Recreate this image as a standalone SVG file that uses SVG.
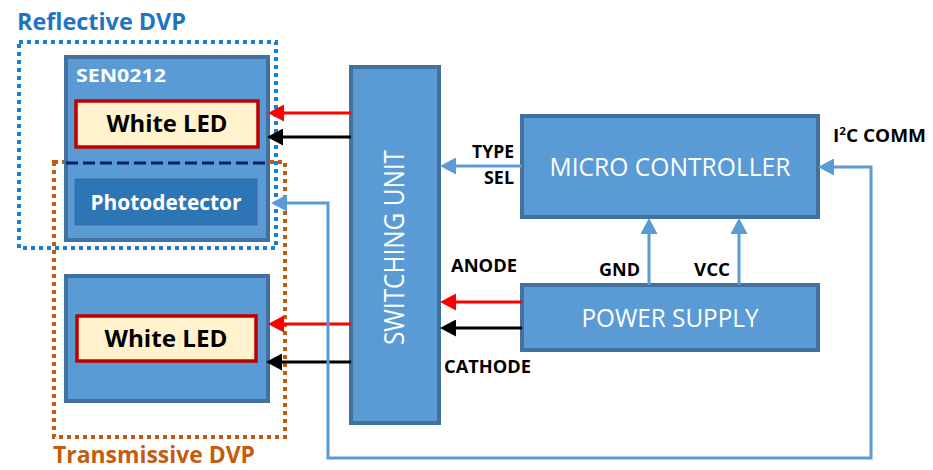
<svg xmlns="http://www.w3.org/2000/svg" width="933" height="470" viewBox="0 0 933 470">
<style>
.node{fill:#5B9BD5;stroke:#41719C;stroke-width:4}
.led{fill:#FFF2CC;stroke:#C00000;stroke-width:3.5}
.pd{fill:#2E75B6;stroke:#3A6FA5;stroke-width:1}
.wt{font-family:"Open Sans","Liberation Sans",sans-serif;fill:#fff}
.bt{font-family:"Open Sans","Liberation Sans",sans-serif;font-weight:bold;fill:#000}
.wb{font-family:"Open Sans","Liberation Sans",sans-serif;font-weight:bold;fill:#fff}
.red{stroke:#FF0000;stroke-width:3;fill:none}
.blk{stroke:#000;stroke-width:3;fill:none}
.blu{stroke:#5B9BD5;stroke-width:3;fill:none}
</style>
<defs>
<marker id="ar" markerUnits="userSpaceOnUse" viewBox="0 0 16 17" markerWidth="16" markerHeight="17" refX="0" refY="8.5" orient="auto"><path d="M0,0 L16,8.5 L0,17 z" fill="#FF0000"/></marker>
<marker id="ab" markerUnits="userSpaceOnUse" viewBox="0 0 16 17" markerWidth="16" markerHeight="17" refX="0" refY="8.5" orient="auto"><path d="M0,0 L16,8.5 L0,17 z" fill="#000"/></marker>
<marker id="al" markerUnits="userSpaceOnUse" viewBox="0 0 16 17" markerWidth="16" markerHeight="17" refX="0" refY="8.5" orient="auto-start-reverse"><path d="M0,0 L16,8.5 L0,17 z" fill="#5B9BD5"/></marker>
</defs>
<rect width="933" height="470" fill="#fff"/>

<g id="reflective-dvp">
<rect x="19" y="42" width="257" height="206" fill="none" stroke="#1A7FD4" stroke-width="4" stroke-dasharray="4 4"/>
<text x="17" y="30" font-family="'Open Sans','Liberation Sans',sans-serif" font-weight="bold" font-size="24" fill="#1F74C4" textLength="169" lengthAdjust="spacingAndGlyphs">Reflective DVP</text>
</g>
<g id="transmissive-dvp">
<rect x="54" y="162" width="231" height="275" fill="none" stroke="#C55A11" stroke-width="4" stroke-dasharray="4 4"/>
<text x="53" y="463" font-family="'Open Sans','Liberation Sans',sans-serif" font-weight="bold" font-size="23" fill="#C55A11" textLength="202" lengthAdjust="spacingAndGlyphs">Transmissive DVP</text>
</g>

<g id="sen0212">
<rect class="node" x="66" y="57" width="202" height="183"/>
<text class="wb" x="76" y="82" font-size="18" textLength="90" lengthAdjust="spacingAndGlyphs">SEN0212</text>
<g id="white-led-1">
<rect class="led" x="76" y="101" width="182" height="46"/>
<text class="bt" x="167" y="132" font-size="24" text-anchor="middle" textLength="121" lengthAdjust="spacingAndGlyphs">White LED</text>
</g>
<line x1="66" y1="163" x2="266" y2="163" stroke="#002060" stroke-width="3" stroke-dasharray="12 5"/>
<g id="photodetector">
<rect class="pd" x="75" y="179" width="182" height="46"/>
<text class="wb" x="166" y="210" font-size="21" text-anchor="middle" textLength="151" lengthAdjust="spacingAndGlyphs">Photodetector</text>
</g>
</g>

<g id="transmissive-led">
<rect class="node" x="66" y="276" width="202" height="125"/>
<g id="white-led-2">
<rect class="led" x="77" y="316" width="179" height="45"/>
<text class="bt" x="166" y="347" font-size="24" text-anchor="middle" textLength="123" lengthAdjust="spacingAndGlyphs">White LED</text>
</g>
</g>

<g id="switching-unit">
<rect class="node" x="351" y="67" width="88" height="356" stroke-width="3"/>
<text class="wt" transform="translate(404,247.5) rotate(-90)" font-size="27" text-anchor="middle" textLength="195" lengthAdjust="spacingAndGlyphs">SWITCHING UNIT</text>
</g>

<g id="micro-controller">
<rect class="node" x="522" y="116" width="296" height="101" stroke-width="3"/>
<text class="wt" x="670" y="176" font-size="26" text-anchor="middle" textLength="241" lengthAdjust="spacingAndGlyphs">MICRO CONTROLLER</text>
</g>

<g id="power-supply">
<rect class="node" x="522" y="285" width="296" height="65" stroke-width="3"/>
<text class="wt" x="670" y="327" font-size="26" text-anchor="middle" textLength="177" lengthAdjust="spacingAndGlyphs">POWER SUPPLY</text>
</g>

<g id="connectors">
<path class="red" d="M351,113 H284" marker-end="url(#ar)"/>
<path class="blk" d="M351,137 H283" marker-end="url(#ab)"/>
<path class="red" d="M351,324 H284" marker-end="url(#ar)"/>
<path class="blk" d="M351,362 H282" marker-end="url(#ab)"/>
<path class="blu" d="M522,166 H456" marker-end="url(#al)"/>
<path class="red" d="M522,302 H456" marker-end="url(#ar)"/>
<path class="blk" d="M522,328 H456" marker-end="url(#ab)"/>
<path class="blu" d="M649,285 V234" marker-end="url(#al)"/>
<path class="blu" d="M739,285 V234" marker-end="url(#al)"/>
<path class="blu" d="M834,167 H871 V458 H328 V203 H287" marker-start="url(#al)" marker-end="url(#al)"/>
</g>

<g id="labels">
<text class="bt" x="472" y="158" font-size="18" textLength="42" lengthAdjust="spacingAndGlyphs">TYPE</text>
<text class="bt" x="484" y="184" font-size="18" textLength="30" lengthAdjust="spacingAndGlyphs">SEL</text>
<text class="bt" x="451" y="272" font-size="18" textLength="66" lengthAdjust="spacingAndGlyphs">ANODE</text>
<text class="bt" x="444" y="373" font-size="18" textLength="87" lengthAdjust="spacingAndGlyphs">CATHODE</text>
<text class="bt" x="599" y="276" font-size="18" textLength="41" lengthAdjust="spacingAndGlyphs">GND</text>
<text class="bt" x="694" y="276" font-size="18" textLength="36" lengthAdjust="spacingAndGlyphs">VCC</text>
<text class="bt" x="833" y="142" font-size="18" textLength="93" lengthAdjust="spacingAndGlyphs">I<tspan font-size="11" dy="-7">2</tspan><tspan dy="7">C COMM</tspan></text>
</g>
</svg>
